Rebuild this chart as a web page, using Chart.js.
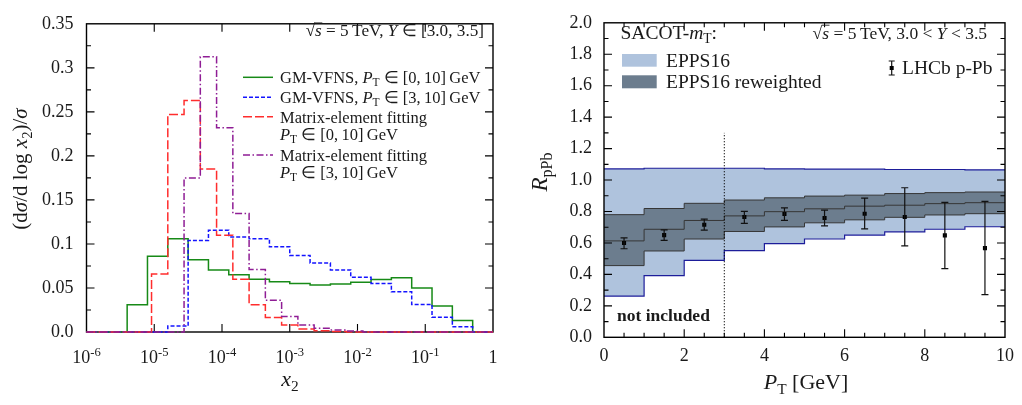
<!DOCTYPE html>
<html><head><meta charset="utf-8">
<script src="https://cdn.jsdelivr.net/npm/chart.js@4.4.1/dist/chart.umd.min.js"></script>
<style>
html,body{margin:0;padding:0;background:#fff;}
#wrap{position:relative;width:1022px;height:405px;overflow:hidden;}
#c1{position:absolute;left:0;top:0;width:511px;height:405px;}
#c2{position:absolute;left:511px;top:0;width:511px;height:405px;}
</style></head><body>
<div id="wrap"><canvas id="c1" width="511" height="405"></canvas><canvas id="c2" width="511" height="405"></canvas></div>
<script>
// ===================== LEFT PANEL DATA =====================
// bin edges given as log10(x2)
const gm010Edges  = [-5.4,-5.1,-4.8,-4.5,-4.2,-3.9,-3.6,-3.3,-3.0,-2.7,-2.4,-2.1,-1.8,-1.5,-1.2,-0.9,-0.6,-0.3];
const gm010Values = [0.031,0.086,0.106,0.082,0.0705,0.065,0.060,0.057,0.055,0.0535,0.0546,0.0564,0.0597,0.0615,0.050,0.0295,0.013];
const gm310Edges  = [-4.8,-4.5,-4.2,-3.9,-3.6,-3.3,-3.0,-2.7,-2.4,-2.1,-1.8,-1.5,-1.2,-0.9,-0.6,-0.3];
const gm310Values = [0.0068,0.104,0.1155,0.108,0.106,0.0967,0.087,0.0784,0.0705,0.0622,0.055,0.0457,0.0313,0.0168,0.006];
const mef010Edges  = [-5.04,-4.80,-4.56,-4.32,-4.08,-3.84,-3.60,-3.36,-3.12,-2.88,-2.64,-2.40,-2.16];
const mef010Values = [0.066,0.247,0.263,0.185,0.110,0.060,0.031,0.0165,0.008,0.0035,0.0015,0.0007];
const mef310Edges  = [-4.56,-4.32,-4.08,-3.84,-3.60,-3.36,-3.12,-2.88,-2.64,-2.40,-2.16,-1.92];
const mef310Values = [0.175,0.3125,0.232,0.1345,0.071,0.036,0.0176,0.008,0.0042,0.0022,0.001];
const x2TickExponents = [-6,-5,-4,-3,-2,-1,0];
const x2TickLabels = [['10','-6'],['10','-5'],['10','-4'],['10','-3'],['10','-2'],['10','-1'],['1','']];
const leftYTickValues = [0,0.05,0.1,0.15,0.2,0.25,0.3,0.35];
const leftYLabels = ['0.0','0.05','0.1','0.15','0.2','0.25','0.3','0.35'];
const leftYMinor = [0.025,0.075,0.125,0.175,0.225,0.275,0.325];

// ===================== RIGHT PANEL DATA =====================
const ptEdges   = [0,1,2,3,4,5,6,7,8,9,10];
const eppsUpper = [1.071,1.075,1.075,1.075,1.071,1.069,1.069,1.067,1.067,1.065];
const eppsLower = [0.262,0.392,0.489,0.551,0.596,0.625,0.650,0.671,0.687,0.703];
const rwUpper   = [0.780,0.819,0.852,0.873,0.887,0.898,0.904,0.914,0.920,0.924];
const rwCentral = [0.613,0.687,0.743,0.772,0.799,0.817,0.834,0.840,0.850,0.856];
const rwLower   = [0.456,0.549,0.625,0.673,0.702,0.728,0.747,0.763,0.778,0.786];
const lhcbPt    = [0.5,1.5,2.5,3.5,4.5,5.5,6.5,7.5,8.5,9.5];
const lhcbR     = [0.600,0.650,0.716,0.765,0.784,0.759,0.786,0.765,0.648,0.567];
const lhcbHi    = [0.632,0.683,0.751,0.801,0.823,0.809,0.885,0.951,0.858,0.864];
const lhcbLo    = [0.563,0.617,0.681,0.724,0.743,0.708,0.689,0.582,0.437,0.272];
const rightXTickValues = [0,2,4,6,8,10];
const rightXLabels = ['0','2','4','6','8','10'];
const rightXMinor = [0.5,1,1.5,2.5,3,3.5,4.5,5,5.5,6.5,7,7.5,8.5,9,9.5];
const rightYTickValues = [0,0.2,0.4,0.6,0.8,1.0,1.2,1.4,1.6,1.8,2.0];
const rightYLabels = ['0.0','0.2','0.4','0.6','0.8','1.0','1.2','1.4','1.6','1.8','2.0'];
const rightYMinor = [0.1,0.3,0.5,0.7,0.9,1.1,1.3,1.5,1.7,1.9];
const cutPt = 3;        // "not included" boundary
const cutLineTop = 1.3;

// ===================== STYLE =====================
const FONT = "'Liberation Serif','Times New Roman',serif";
const TXT = '#1a1a1a';
Chart.defaults.font.family = FONT;
Chart.defaults.color = TXT;
const GREEN = '#178a17', BLUE = '#1414ff', RED = '#ff2d2d', PURPLE = '#8f1d95';
const LIGHT = '#afc3dd', DARK = '#6c7d8e', NAVY = '#1d1d9a', DARKLINE = '#363636';
const TS = '\u2009'; // thin space

// ===================== HELPERS =====================
function histPoints(edges, values) {
  const pts = [{x: 1e-6, y: 0}];
  let prev = 0;
  for (let i = 0; i < values.length; i++) {
    const x = Math.pow(10, edges[i]);
    pts.push({x, y: prev}); pts.push({x, y: values[i]}); prev = values[i];
  }
  const xe = Math.pow(10, edges[values.length]);
  pts.push({x: xe, y: prev}); pts.push({x: xe, y: 0}); pts.push({x: 1, y: 0});
  return pts;
}
function stepPoints(edges, values) {
  const pts = [];
  for (let i = 0; i < values.length; i++) {
    pts.push({x: edges[i], y: values[i]}); pts.push({x: edges[i+1], y: values[i]});
  }
  return pts;
}
function fontOf(s, size) {
  const fs = (s.sub || s.sup) ? size * 0.7 : size;
  return (s.i ? 'italic ' : '') + (s.b ? 'bold ' : '') + fs.toFixed(1) + 'px ' + FONT;
}
function richWidth(ctx, segs, size) {
  let w = 0;
  for (const s of segs) { ctx.font = fontOf(s, size); w += ctx.measureText(s.t).width; }
  return w;
}
function drawRich(ctx, segs, x, y, size, align) {
  const w = richWidth(ctx, segs, size);
  let cx = align === 'right' ? x - w : align === 'center' ? x - w / 2 : x;
  ctx.textBaseline = 'alphabetic'; ctx.textAlign = 'left';
  ctx.fillStyle = TXT; ctx.strokeStyle = TXT;
  for (const s of segs) {
    ctx.font = fontOf(s, size);
    const dy = s.sub ? size * 0.22 : s.sup ? -size * 0.4 : 0;
    ctx.fillText(s.t, cx, y + dy);
    const sw = ctx.measureText(s.t).width;
    if (s.over) {
      ctx.lineWidth = 0.9; ctx.beginPath();
      ctx.moveTo(cx - 0.5, y - size * 0.76); ctx.lineTo(cx + sw + 0.5, y - size * 0.76); ctx.stroke();
    }
    cx += sw;
  }
}
function drawRotated(ctx, segs, x, y, size) {
  ctx.save(); ctx.translate(x, y); ctx.rotate(-Math.PI / 2);
  drawRich(ctx, segs, 0, 0, size, 'center'); ctx.restore();
}
function frameAndTicks(ctx, chart, xMaj, xMin, yMaj, yMin) {
  const a = chart.chartArea, xs = chart.scales.x, ys = chart.scales.y;
  ctx.save();
  ctx.strokeStyle = '#000'; ctx.lineWidth = 1.1;
  const MJ = 8, MN = 4.5;
  ctx.beginPath();
  for (const v of xMaj) { const p = xs.getPixelForValue(v); ctx.moveTo(p, a.bottom); ctx.lineTo(p, a.bottom - MJ); ctx.moveTo(p, a.top); ctx.lineTo(p, a.top + MJ); }
  for (const v of xMin) { const p = xs.getPixelForValue(v); ctx.moveTo(p, a.bottom); ctx.lineTo(p, a.bottom - MN); ctx.moveTo(p, a.top); ctx.lineTo(p, a.top + MN); }
  for (const v of yMaj) { const p = ys.getPixelForValue(v); ctx.moveTo(a.left, p); ctx.lineTo(a.left + MJ, p); ctx.moveTo(a.right, p); ctx.lineTo(a.right - MJ, p); }
  for (const v of yMin) { const p = ys.getPixelForValue(v); ctx.moveTo(a.left, p); ctx.lineTo(a.left + MN, p); ctx.moveTo(a.right, p); ctx.lineTo(a.right - MN, p); }
  ctx.stroke();
  ctx.lineWidth = 1.4;
  ctx.strokeRect(a.left, a.top, a.right - a.left, a.bottom - a.top);
  ctx.restore();
}

// ===================== LEFT CHART =====================
const leftPlugin = {
  id: 'leftDeco',
  beforeDatasetsDraw(chart) {
    const inner = x2TickExponents.slice(1, -1).map(e => Math.pow(10, e));
    frameAndTicks(chart.ctx, chart, inner, [], leftYTickValues.slice(1, -1), leftYMinor);
  },
  afterDraw(chart) {
    const ctx = chart.ctx, xs = chart.scales.x;
    // x tick labels (10^n)
    x2TickExponents.forEach((e, i) => {
      const p = xs.getPixelForValue(Math.pow(10, e));
      const [b, ex] = x2TickLabels[i];
      const segs = ex ? [{t: b}, {t: ex, sup: true}] : [{t: b}];
      drawRich(ctx, segs, p, 363, 18, 'center');
    });
    // axis titles
    drawRich(ctx, [{t: 'x', i: true}, {t: '2', sub: true}], 290, 386, 22, 'center');
    drawRotated(ctx, [{t: '(d'}, {t: 'σ', i: true}, {t: '/d log '}, {t: 'x', i: true}, {t: '2', sub: true}, {t: ')/'}, {t: 'σ', i: true}], 27, 169, 21);
    // annotation
    drawRich(ctx, [{t: '√'}, {t: 's', i: true, over: true}, {t: ' = 5' + TS + 'TeV, '}, {t: 'Y', i: true}, {t: ' ∈ [3.0, 3.5]'}], 484, 36, 17.2, 'right');
    // legend
    const rows = [
      {c: GREEN, d: [], y: 77.3},
      {c: BLUE, d: [4, 2], y: 97.3},
      {c: RED, d: [9, 3], y: 116.7},
      {c: PURPLE, d: [7, 2.5, 1.5, 2.5], y: 155}
    ];
    ctx.save();
    rows.forEach(r => {
      ctx.strokeStyle = r.c; ctx.lineWidth = 1.5; ctx.setLineDash(r.d);
      ctx.beginPath(); ctx.moveTo(243, r.y); ctx.lineTo(273, r.y); ctx.stroke();
    });
    ctx.restore();
    const PT = [{t: 'P', i: true}, {t: 'T', sub: true}];
    const r010 = ' ∈ [0,' + TS + '10]' + TS + 'GeV', r310 = ' ∈ [3,' + TS + '10]' + TS + 'GeV';
    drawRich(ctx, [{t: 'GM-VFNS, '}, ...PT, {t: r010}], 280, 82.8, 16.5, 'left');
    drawRich(ctx, [{t: 'GM-VFNS, '}, ...PT, {t: r310}], 280, 102.8, 16.5, 'left');
    drawRich(ctx, [{t: 'Matrix-element fitting'}], 280, 122.5, 16.5, 'left');
    drawRich(ctx, [...PT, {t: r010}], 280, 139.5, 16.5, 'left');
    drawRich(ctx, [{t: 'Matrix-element fitting'}], 280, 160.5, 16.5, 'left');
    drawRich(ctx, [...PT, {t: r310}], 280, 177.5, 16.5, 'left');
  }
};

function histDs(edges, values, color, dash) {
  return {data: histPoints(edges, values), borderColor: color, borderWidth: 1.5, borderDash: dash,
          pointRadius: 0, fill: false, tension: 0, clip: false};
}

new Chart(document.getElementById('c1'), {
  type: 'line',
  data: {datasets: [
    histDs(mef310Edges, mef310Values, PURPLE, [7, 2.5, 1.5, 2.5]),
    histDs(mef010Edges, mef010Values, RED, [9, 3]),
    histDs(gm310Edges, gm310Values, BLUE, [4, 2]),
    histDs(gm010Edges, gm010Values, GREEN, [])
  ]},
  options: {
    responsive: false, animation: false, devicePixelRatio: 1, events: [],
    layout: {padding: {top: 6.5, right: 18, left: 0, bottom: 0}},
    plugins: {legend: {display: false}, tooltip: {enabled: false}},
    scales: {
      x: {type: 'logarithmic', min: 1e-6, max: 1, ticks: {display: false},
          grid: {display: false, drawTicks: false}, border: {display: false},
          afterFit(s) { s.height = 73; }},
      y: {type: 'linear', min: 0, max: 0.35,
          ticks: {stepSize: 0.05, padding: 13, font: {size: 18}, color: TXT,
                  callback: v => leftYLabels[Math.round(v / 0.05)]},
          grid: {display: false, drawTicks: false}, border: {display: false},
          afterFit(s) { s.width = 86.5; }}
    }
  },
  plugins: [leftPlugin]
});

// ===================== RIGHT CHART =====================
const OFF = 511;
const rightPlugin = {
  id: 'rightDeco',
  afterDatasetsDraw(chart) {
    const ctx = chart.ctx, xs = chart.scales.x, ys = chart.scales.y;
    // dotted boundary
    ctx.save();
    ctx.strokeStyle = '#000'; ctx.lineWidth = 1; ctx.setLineDash([1.2, 1.8]);
    ctx.beginPath();
    ctx.moveTo(xs.getPixelForValue(cutPt), ys.getPixelForValue(0));
    ctx.lineTo(xs.getPixelForValue(cutPt), ys.getPixelForValue(cutLineTop));
    ctx.stroke(); ctx.setLineDash([]);
    // error bars
    ctx.strokeStyle = '#111'; ctx.lineWidth = 1.2;
    ctx.beginPath();
    lhcbPt.forEach((p, i) => {
      const x = xs.getPixelForValue(p), y1 = ys.getPixelForValue(lhcbLo[i]), y2 = ys.getPixelForValue(lhcbHi[i]);
      ctx.moveTo(x, y1); ctx.lineTo(x, y2);
      ctx.moveTo(x - 3.5, y1); ctx.lineTo(x + 3.5, y1);
      ctx.moveTo(x - 3.5, y2); ctx.lineTo(x + 3.5, y2);
    });
    ctx.stroke();
    ctx.restore();
    frameAndTicks(ctx, chart, rightXTickValues.slice(1, -1), rightXMinor, rightYTickValues.slice(1, -1), rightYMinor);
  },
  afterDraw(chart) {
    const ctx = chart.ctx;
    // titles
    drawRich(ctx, [{t: 'P', i: true}, {t: 'T', sub: true}, {t: ' [GeV]'}], 806 - OFF, 389, 22, 'center');
    drawRotated(ctx, [{t: 'R', i: true}, {t: 'pPb', sub: true}], 547 - OFF, 172, 23);
    // legend
    drawRich(ctx, [{t: 'SACOT-'}, {t: 'm', i: true}, {t: 'T', sub: true}, {t: ':'}], 620.5 - OFF, 39, 19.5, 'left');
    ctx.fillStyle = LIGHT; ctx.fillRect(622 - OFF, 54, 34.7, 12.7);
    ctx.fillStyle = DARK; ctx.fillRect(622 - OFF, 75.3, 34.7, 13);
    drawRich(ctx, [{t: 'EPPS16'}], 666 - OFF, 66.5, 19.5, 'left');
    drawRich(ctx, [{t: 'EPPS16 reweighted'}], 666 - OFF, 87.7, 19.5, 'left');
    // LHCb legend entry
    ctx.save(); ctx.strokeStyle = '#111'; ctx.lineWidth = 1.2;
    const lx = 891.7 - OFF;
    ctx.beginPath(); ctx.moveTo(lx, 61); ctx.lineTo(lx, 75);
    ctx.moveTo(lx - 3, 61); ctx.lineTo(lx + 3, 61); ctx.moveTo(lx - 3, 75); ctx.lineTo(lx + 3, 75); ctx.stroke();
    ctx.fillStyle = '#000'; ctx.fillRect(lx - 2, 66, 4, 4);
    ctx.restore();
    drawRich(ctx, [{t: 'LHCb p-Pb'}], 902 - OFF, 73.5, 19.5, 'left');
    // annotation
    drawRich(ctx, [{t: '√'}, {t: 's', i: true, over: true}, {t: ' = 5' + TS + 'TeV, 3.0 < '}, {t: 'Y', i: true}, {t: ' < 3.5'}], 987 - OFF, 38.5, 17.5, 'right');
    // not included
    drawRich(ctx, [{t: 'not included', b: true}], 617 - OFF, 321, 17.5, 'left');
  }
};

function bandLine(values, color, width, extra) {
  return Object.assign({data: stepPoints(ptEdges, values), borderColor: color, borderWidth: width,
    pointRadius: 0, tension: 0, fill: false}, extra || {});
}

new Chart(document.getElementById('c2'), {
  type: 'line',
  data: {datasets: [
    {data: lhcbPt.map((p, i) => ({x: p, y: lhcbR[i]})), showLine: false, pointStyle: 'rect',
     pointRadius: 2.9, pointBackgroundColor: '#000', pointBorderColor: '#000', pointBorderWidth: 0, order: -1},
    bandLine(rwCentral, DARKLINE, 1),
    bandLine(rwUpper, DARKLINE, 1, {fill: {target: 3}, backgroundColor: DARK}),
    bandLine(rwLower, DARKLINE, 1),
    bandLine(eppsUpper, NAVY, 1.2, {fill: {target: 5}, backgroundColor: LIGHT}),
    bandLine(eppsLower, NAVY, 1.2)
  ]},
  options: {
    responsive: false, animation: false, devicePixelRatio: 1, events: [],
    layout: {padding: {top: 13.5, right: 12, left: 0, bottom: 0}},
    plugins: {legend: {display: false}, tooltip: {enabled: false}, filler: {drawTime: 'beforeDatasetsDraw'}},
    scales: {
      x: {type: 'linear', min: 0, max: 10,
          ticks: {stepSize: 2, padding: 8, font: {size: 18}, color: TXT, maxRotation: 0, autoSkip: false,
                  callback: v => rightXLabels[Math.round(v / 2)]},
          grid: {display: false, drawTicks: false}, border: {display: false},
          afterFit(s) { s.height = 67.7; }},
      y: {type: 'linear', min: 0, max: 2,
          ticks: {stepSize: 0.2, padding: 12, font: {size: 18}, color: TXT,
                  callback: v => rightYLabels[Math.round(v / 0.2)]},
          grid: {display: false, drawTicks: false}, border: {display: false},
          afterFit(s) { s.width = 93; }}
    }
  },
  plugins: [rightPlugin]
});
</script>
</body></html>
